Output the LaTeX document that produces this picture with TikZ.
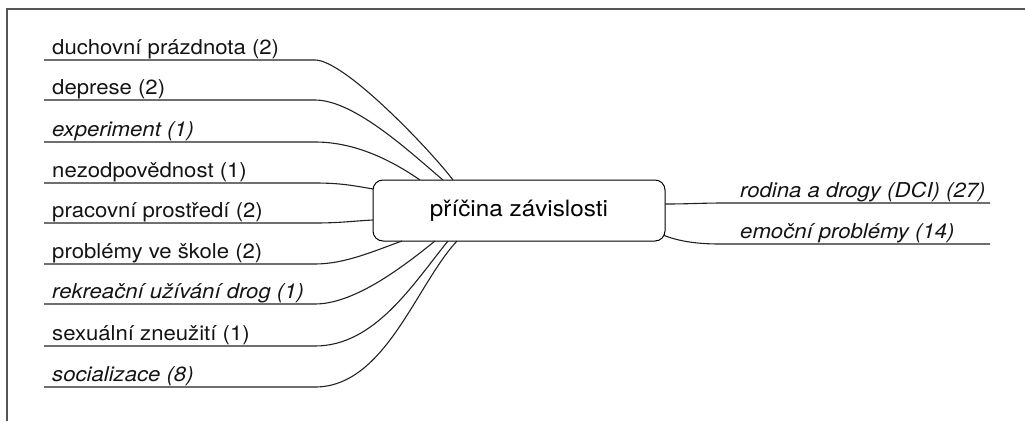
\documentclass[tikz,border=0pt]{standalone}
\usepackage{fontspec}
\setmainfont{TeX Gyre Heros}[FakeStretch=1.08]
\definecolor{ink}{HTML}{141414}
\definecolor{linec}{HTML}{222222}
\definecolor{framec}{HTML}{555555}
\begin{document}
\begin{tikzpicture}[x=1pt,y=-1pt,
  lab/.style={anchor=base west,inner sep=0pt,text=ink,font=\fontsize{20.5}{24}\selectfont},
  ilab/.style={lab,font=\fontsize{20.5}{24}\selectfont\itshape},
  branch/.style={draw=linec,line width=1.1pt},
  mainbox/.style={draw=black,line width=1pt,rounded corners=10pt,minimum width=292pt,minimum height=61pt,inner sep=0pt,text=black,font=\fontsize{22.5}{26}\selectfont},
  framel/.style={draw=framec,line width=1.4pt}]
\useasboundingbox (0,0) rectangle (1025,421);
\draw[framel] (7,421) -- (7,9) -- (1025,9);

\node[mainbox] (c) at (519,210.5) {příčina závislosti};

% left labels
\node[lab]  (l1) at (52,54)  {duchovní prázdnota (2)};
\node[lab]  (l2) at (52,94)  {deprese (2)};
\node[ilab] (l3) at (52,136) {experiment (1)};
\node[lab]  (l4) at (52,177) {nezodpovědnost (1)};
\node[lab]  (l5) at (52,217) {pracovní prostředí (2)};
\node[lab]  (l6) at (52,258) {problémy ve škole (2)};
\node[ilab] (l7) at (52,298) {rekreační užívání drog (1)};
\node[lab]  (l8) at (52,340) {sexuální zneužití (1)};
\node[ilab] (l9) at (52,381) {socializace (8)};

% right labels
\node[ilab] (r1) at (740,197) {rodina a drogy (DCI) (27)};
\node[ilab] (r2) at (740,238) {emoční problémy (14)};

% underline starts / bends
\foreach \i/\y in {1/60,2/100,3/142,4/183,5/223,6/264,7/304,8/346,9/387}{
  \coordinate (u\i) at (44,\y);
  \coordinate (k\i) at (315,\y);
}
% attachment points on central node
\coordinate (a1) at (453,180);
\coordinate (a2) at (443,180);
\coordinate (a3) at (420,180);
\coordinate (a4) at (373,189);
\coordinate (a5) at (373,220);
\coordinate (a6) at (402,241);
\coordinate (a7) at (435,241);
\coordinate (a8) at (448,241);
\coordinate (a9) at (457,241);

\draw[branch] (u1) -- (k1) .. controls (345,60) and (432,152) .. (a1);
\draw[branch] (u2) -- (k2) .. controls (355,100) and (412,154) .. (a2);
\draw[branch] (u3) -- (k3) .. controls (355,142) and (391,160) .. (a3);
\draw[branch] (u4) -- (k4) .. controls (340,183) and (353,185.5) .. (a4);
\draw[branch] (u5) -- (k5) .. controls (340,223) and (353,221) .. (a5);
\draw[branch] (u6) -- (k6) .. controls (345,264) and (374,251) .. (a6);
\draw[branch] (u7) -- (k7) .. controls (355,304) and (404,266) .. (a7);
\draw[branch] (u8) -- (k8) .. controls (375,346) and (413,284) .. (a8);
\draw[branch] (u9) -- (k9) .. controls (385,387) and (416,285) .. (a9);

% right branches
\coordinate (b1) at (665,204);
\coordinate (b2) at (663,235);
\coordinate (e1) at (990,203);
\coordinate (e2) at (990,244);
\draw[branch] (b1) .. controls (690,204) and (700,203) .. (725,203) -- (e1);
\draw[branch] (b2) .. controls (680,242) and (700,244) .. (720,244) -- (e2);
\end{tikzpicture}
\end{document}
